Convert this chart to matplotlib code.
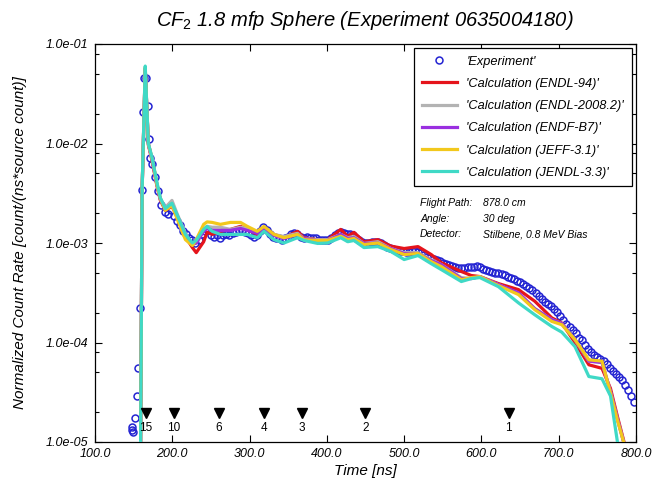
import matplotlib
matplotlib.use('Agg')
import matplotlib.pyplot as plt
from matplotlib.ticker import LogLocator, FixedLocator, FuncFormatter, NullFormatter

plt.rcParams['font.family'] = ['Liberation Sans', 'DejaVu Sans']
plt.rcParams['mathtext.fontset'] = 'custom'
plt.rcParams['mathtext.it'] = 'Liberation Sans:italic'
plt.rcParams['mathtext.rm'] = 'Liberation Sans'

# ---------------- data ----------------
exp_time = [147.5, 148.5, 149.5, 151.5, 154, 156, 158.3, 160.5, 162.2, 163.6, 166.1, 168.2, 169.8, 171.5,
            174, 178, 182, 186, 190, 194, 198, 202, 206, 210,
            214, 218, 222, 226, 230, 234, 238, 242, 246, 250,
            254, 258, 262, 266, 270, 274, 278, 282, 286, 290,
            294, 298, 302, 306, 310, 314, 318, 322, 326, 330,
            334, 338, 342, 346, 350, 354, 358, 362, 366, 370,
            374, 378, 382, 386, 390, 394, 398, 402, 406, 410,
            414, 418, 422, 426, 430, 434, 438, 442, 446, 450,
            454, 458, 462, 466, 470, 474, 478, 482, 486, 490,
            494, 498, 502, 506, 510, 514, 518, 522, 526, 530,
            534, 538, 542, 546, 550, 554, 558, 562, 566, 570,
            574, 578, 582, 586, 590, 594, 598, 602, 606, 610,
            614, 618, 622, 626, 630, 634, 638, 642, 646, 650,
            654, 658, 662, 666, 670, 674, 678, 682, 686, 690,
            694, 698, 702, 706, 710, 714, 718, 722, 726, 730,
            734, 738, 742, 746, 750, 754, 758, 762, 766, 770,
            774, 778, 782, 786, 790, 794, 798]
exp_rate = [1.42e-5, 1.33e-5, 1.25e-5, 1.75e-5, 2.9e-5, 5.6e-5, 2.2e-4, 3.4e-3, 2.05e-2, 4.6e-2, 4.6e-2, 2.4e-2, 1.1e-2, 7.2e-3,
            6.18e-3, 4.57e-3, 3.30e-3, 2.39e-3, 2.03e-3, 1.94e-3, 2.13e-3, 1.85e-3, 1.65e-3, 1.50e-3,
            1.31e-3, 1.22e-3, 1.11e-3, 1.06e-3, 1.00e-3, 1.08e-3, 1.22e-3, 1.31e-3, 1.34e-3, 1.19e-3,
            1.16e-3, 1.19e-3, 1.13e-3, 1.19e-3, 1.22e-3, 1.19e-3, 1.25e-3, 1.28e-3, 1.31e-3, 1.31e-3,
            1.28e-3, 1.25e-3, 1.19e-3, 1.16e-3, 1.19e-3, 1.31e-3, 1.44e-3, 1.34e-3, 1.22e-3, 1.16e-3,
            1.13e-3, 1.11e-3, 1.08e-3, 1.11e-3, 1.16e-3, 1.22e-3, 1.25e-3, 1.22e-3, 1.16e-3, 1.13e-3,
            1.16e-3, 1.13e-3, 1.11e-3, 1.11e-3, 1.08e-3, 1.08e-3, 1.06e-3, 1.08e-3, 1.13e-3, 1.19e-3,
            1.25e-3, 1.28e-3, 1.25e-3, 1.22e-3, 1.22e-3, 1.19e-3, 1.13e-3, 1.08e-3, 1.03e-3, 1.00e-3,
            1.00e-3, 1.03e-3, 1.03e-3, 1.03e-3, 9.9e-4, 9.44e-4, 9.2e-4, 9.0e-4, 8.8e-4, 8.6e-4,
            8.4e-4, 8.4e-4, 8.2e-4, 8.2e-4, 8.4e-4, 8.4e-4, 8.2e-4, 8.0e-4, 7.66e-4, 7.3e-4,
            7.14e-4, 6.98e-4, 6.82e-4, 6.66e-4, 6.36e-4, 6.2e-4, 6.07e-4, 5.93e-4, 5.8e-4, 5.66e-4,
            5.66e-4, 5.66e-4, 5.8e-4, 5.8e-4, 5.8e-4, 5.93e-4, 5.8e-4, 5.54e-4, 5.41e-4, 5.29e-4,
            5.17e-4, 5.05e-4, 5.05e-4, 4.93e-4, 4.82e-4, 4.6e-4, 4.49e-4, 4.39e-4, 4.19e-4, 4.1e-4,
            3.91e-4, 3.73e-4, 3.56e-4, 3.40e-4, 3.16e-4, 2.96e-4, 2.76e-4, 2.58e-4, 2.46e-4, 2.35e-4,
            2.19e-4, 2.04e-4, 1.86e-4, 1.70e-4, 1.55e-4, 1.44e-4, 1.34e-4, 1.25e-4, 1.12e-4, 1.05e-4,
            9.5e-5, 8.65e-5, 8.06e-5, 7.53e-5, 7.19e-5, 6.86e-5, 6.54e-5, 6.1e-5, 5.57e-5, 5.19e-5,
            4.84e-5, 4.52e-5, 4.21e-5, 3.75e-5, 3.34e-5, 2.91e-5, 2.53e-5]

calc_time = [157, 159, 161, 165, 166.5, 169, 173.5, 177, 180, 184.5,
             191, 199.6, 206, 217, 226, 231, 240.6, 245, 251.6, 262.3,
             275.3, 288.3, 297, 310, 318.6, 331.6, 344.5, 362, 370.5, 388,
             401, 418, 427, 435, 448, 466, 483, 500, 518, 535,
             548, 574, 587, 598, 622, 648, 669, 691, 704, 721,
             739, 756, 767, 776, 784, 792]

endl94 = [3e-6, 1.0e-5, 3.5e-3, 5.6e-2, 2.9e-2, 9.7e-3, 6.9e-3, 5.0e-3, 3.8e-3, 2.7e-3,
          2.13e-3, 2.34e-3, 1.86e-3, 1.16e-3, 9.0e-4, 8.0e-4, 1.03e-3, 1.28e-3, 1.22e-3, 1.31e-3,
          1.37e-3, 1.47e-3, 1.37e-3, 1.22e-3, 1.37e-3, 1.22e-3, 1.13e-3, 1.31e-3, 1.13e-3, 1.08e-3,
          1.08e-3, 1.37e-3, 1.17e-3, 1.28e-3, 1.03e-3, 1.08e-3, 9.3e-4, 8.8e-4, 9.2e-4, 7.66e-4,
          6.36e-4, 5.17e-4, 4.71e-4, 4.6e-4, 3.91e-4, 3.40e-4, 2.6e-4, 1.77e-4, 1.57e-4, 1.0e-4,
          5.97e-5, 5.5e-5, 3.45e-5, 1.8e-5, 1.04e-5, 5e-6]
endl2008 = [3e-6, 1.0e-5, 3.5e-3, 5.7e-2, 2.9e-2, 1.0e-2, 7.2e-3, 5.3e-3, 4.0e-3, 2.8e-3,
            2.27e-3, 2.68e-3, 1.99e-3, 1.25e-3, 9.66e-4, 1.0e-3, 1.37e-3, 1.47e-3, 1.44e-3, 1.44e-3,
            1.37e-3, 1.44e-3, 1.40e-3, 1.28e-3, 1.40e-3, 1.22e-3, 1.16e-3, 1.25e-3, 1.11e-3, 1.08e-3,
            1.08e-3, 1.22e-3, 1.13e-3, 1.16e-3, 9.9e-4, 1.03e-3, 8.8e-4, 8.0e-4, 8.0e-4, 6.82e-4,
            6.07e-4, 4.49e-4, 4.39e-4, 4.6e-4, 3.82e-4, 3.1e-4, 2.19e-4, 1.70e-4, 1.55e-4, 1.07e-4,
            6.5e-5, 6.3e-5, 3.2e-5, 1.7e-5, 1.0e-5, 5e-6]
endfb7 = [3e-6, 1.0e-5, 3.5e-3, 5.7e-2, 2.9e-2, 1.0e-2, 7.0e-3, 5.2e-3, 3.9e-3, 2.75e-3,
          2.18e-3, 2.39e-3, 1.90e-3, 1.19e-3, 9.66e-4, 1.0e-3, 1.31e-3, 1.40e-3, 1.34e-3, 1.34e-3,
          1.34e-3, 1.40e-3, 1.34e-3, 1.25e-3, 1.40e-3, 1.19e-3, 1.11e-3, 1.22e-3, 1.11e-3, 1.06e-3,
          1.06e-3, 1.22e-3, 1.11e-3, 1.13e-3, 9.9e-4, 1.0e-3, 8.8e-4, 7.84e-4, 7.84e-4, 6.66e-4,
          6.07e-4, 4.39e-4, 4.39e-4, 4.6e-4, 3.82e-4, 3.16e-4, 2.19e-4, 1.70e-4, 1.55e-4, 1.07e-4,
          6.5e-5, 6.3e-5, 3.2e-5, 1.7e-5, 1.0e-5, 5e-6]
jeff31 = [3e-6, 1.0e-5, 3.5e-3, 5.8e-2, 2.9e-2, 1.0e-2, 7.2e-3, 5.3e-3, 3.9e-3, 2.8e-3,
          2.13e-3, 2.39e-3, 1.77e-3, 1.08e-3, 9.44e-4, 1.08e-3, 1.54e-3, 1.63e-3, 1.61e-3, 1.54e-3,
          1.61e-3, 1.61e-3, 1.47e-3, 1.31e-3, 1.47e-3, 1.22e-3, 1.13e-3, 1.22e-3, 1.08e-3, 1.06e-3,
          1.06e-3, 1.17e-3, 1.08e-3, 1.11e-3, 9.66e-4, 1.0e-3, 8.6e-4, 7.66e-4, 7.84e-4, 6.5e-4,
          5.8e-4, 4.29e-4, 4.49e-4, 4.6e-4, 3.73e-4, 3.03e-4, 2.14e-4, 1.63e-4, 1.51e-4, 1.07e-4,
          6.7e-5, 6.5e-5, 3.1e-5, 1.65e-5, 1.0e-5, 5e-6]
jendl33 = [3e-6, 1.0e-5, 3.5e-3, 6.0e-2, 3.0e-2, 1.0e-2, 7.4e-3, 5.4e-3, 4.1e-3, 2.85e-3,
           2.22e-3, 2.51e-3, 1.94e-3, 1.22e-3, 1.0e-3, 1.06e-3, 1.37e-3, 1.47e-3, 1.31e-3, 1.22e-3,
           1.22e-3, 1.22e-3, 1.22e-3, 1.13e-3, 1.31e-3, 1.08e-3, 1.0e-3, 1.13e-3, 1.06e-3, 9.9e-4,
           1.0e-3, 1.13e-3, 1.03e-3, 1.06e-3, 9.0e-4, 9.2e-4, 8.2e-4, 6.82e-4, 7.48e-4, 6.2e-4,
           5.41e-4, 4.1e-4, 4.39e-4, 4.49e-4, 3.64e-4, 2.5e-4, 1.9e-4, 1.45e-4, 1.27e-4, 9.1e-5,
           4.55e-5, 4.32e-5, 2.9e-5, 1.0e-5, 5e-6, 5e-6]

calc_series = [
    ("'Calculation (ENDL-94)'", endl94, '#e5141b'),
    ("'Calculation (ENDL-2008.2)'", endl2008, '#b3b3b3'),
    ("'Calculation (ENDF-B7)'", endfb7, '#9a2fe0'),
    ("'Calculation (JEFF-3.1)'", jeff31, '#f2c81c'),
    ("'Calculation (JENDL-3.3)'", jendl33, '#3fd9c6'),
]

marker_time = [165.8, 202.3, 260.4, 318.4, 367.5, 449.7, 635.2]
marker_label = ['15', '10', '6', '4', '3', '2', '1']

x_ticks = [100, 200, 300, 400, 500, 600, 700, 800]

# ---------------- figure ----------------
fig = plt.figure(figsize=(6.63, 4.87), dpi=100)
ax = fig.add_axes([95 / 663, 45 / 487, (636 - 95) / 663, (442 - 44) / 487])

ax.plot(exp_time, exp_rate, linestyle='none', marker='o', markersize=5,
        markerfacecolor='none', markeredgecolor='#2424d2', markeredgewidth=1.1,
        label="'Experiment'", zorder=2)
for lab, vals, col in calc_series:
    ax.plot(calc_time, vals, color=col, linewidth=2.3, label=lab, zorder=3)

ax.set_yscale('log')
ax.set_xlim(100, 800)
ax.set_ylim(1e-5, 1e-1)

ax.xaxis.set_major_locator(FixedLocator(x_ticks))
ax.xaxis.set_major_formatter(FuncFormatter(lambda v, p: f'{v:.1f}'))
ax.yaxis.set_major_locator(LogLocator(base=10, numticks=10))
ax.yaxis.set_minor_locator(LogLocator(base=10, subs=[2, 5, 8], numticks=10))
ax.yaxis.set_major_formatter(FuncFormatter(lambda v, p: f'{v:.1e}'))
ax.yaxis.set_minor_formatter(NullFormatter())
ax.tick_params(which='both', direction='in', top=True, right=True, labelsize=9)
ax.tick_params(which='major', length=5, width=0.8)
ax.tick_params(which='minor', length=3, width=0.8)
ax.tick_params(axis='y', pad=5)
ax.tick_params(axis='x', pad=4)
for t in ax.get_xticklabels() + ax.get_yticklabels():
    t.set_fontstyle('italic')
for s in ax.spines.values():
    s.set_linewidth(0.9)

ax.set_xlabel('Time [ns]', fontsize=11, style='italic', labelpad=3)
ax.set_ylabel('Normalized Count Rate [count/(ns*source count)]', fontsize=11,
              style='italic', labelpad=13)

fig.text(365 / 663, 1 - 20 / 487,
         r'$\mathit{CF}_{\mathit{2}}$ 1.8 mfp Sphere (Experiment 0635004180)',
         ha='center', va='center', fontsize=14.5, style='italic')

# energy markers
trans = ax.get_xaxis_transform()
ax.plot(marker_time, [0.073] * len(marker_time), linestyle='none', marker='v',
        color='black', markersize=6.5, transform=trans, zorder=4)
for mt, ml in zip(marker_time, marker_label):
    ax.text(mt, 0.036, ml, transform=trans, ha='center', va='center', fontsize=8.5, zorder=4)

# info text
info = [('Flight Path:', '878.0 cm'), ('Angle:', '30 deg'), ('Detector:', 'Stilbene, 0.8 MeV Bias')]
for i, (k, v) in enumerate(info):
    yy = 0.600 - i * 0.039
    ax.text(0.601, yy, k, transform=ax.transAxes, fontsize=7.5, style='italic', va='center')
    ax.text(0.717, yy, v, transform=ax.transAxes, fontsize=7.5, style='italic', va='center')

leg = ax.legend(loc='upper right', bbox_to_anchor=(0.992, 0.99), borderaxespad=0,
                prop={'style': 'italic', 'size': 9.2}, handlelength=2.75,
                labelspacing=0.8, fancybox=False, framealpha=1, edgecolor='black',
                borderpad=0.6, handletextpad=0.75)
leg.get_frame().set_linewidth(0.9)

fig.savefig('out.png', dpi=100)
